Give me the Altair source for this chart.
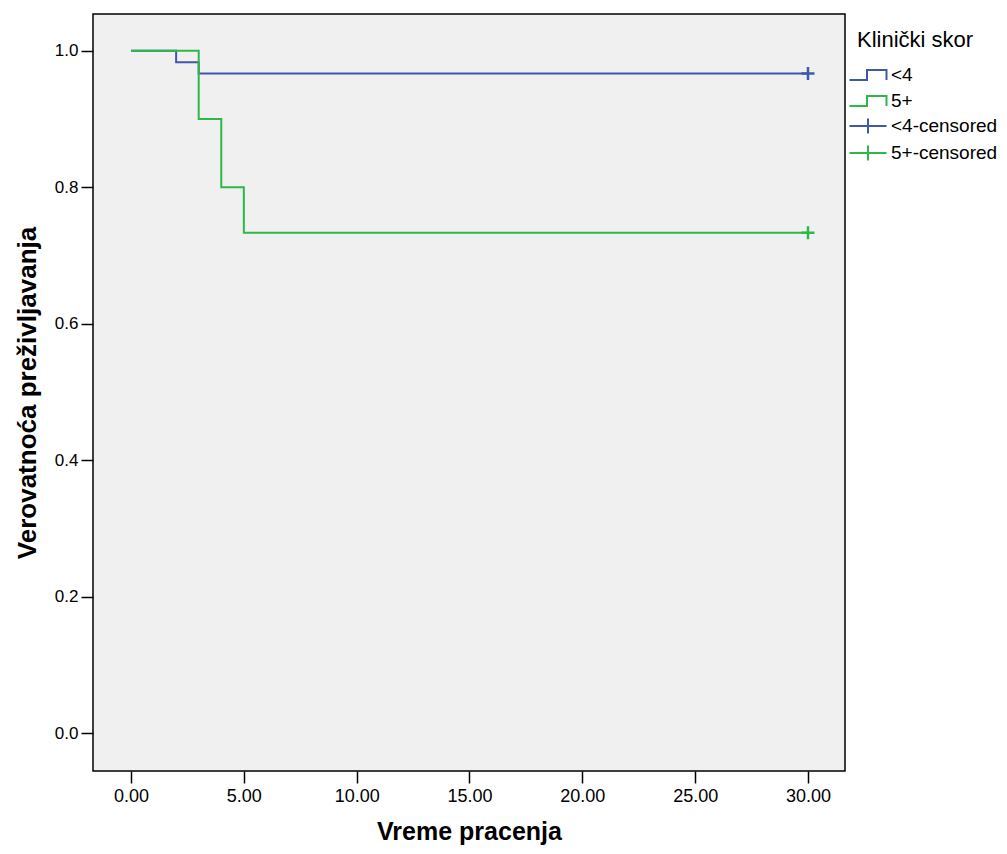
import altair as alt
import pandas as pd

# Kaplan-Meier step data
groups = ["<4", "5+"]
time_lt4 = [0.0, 2.0, 3.0, 30.0]
surv_lt4 = [1.0, 0.9833, 0.9667, 0.9667]
time_5p = [0.0, 3.0, 4.0, 5.0, 30.0]
surv_5p = [1.0, 0.9, 0.8, 0.7333, 0.7333]

cens_groups = ["<4-censored", "5+-censored"]
cens_time = [30.0, 30.0]
cens_surv = [0.9667, 0.7333]

x_ticks = [0, 5, 10, 15, 20, 25, 30]
y_ticks = [0.0, 0.2, 0.4, 0.6, 0.8, 1.0]

colors = ["#3E58AC", "#2EB848"]

rows = []
for t, s in zip(time_lt4, surv_lt4):
    rows.append({"group": "<4", "time": t, "surv": s})
for t, s in zip(time_5p, surv_5p):
    rows.append({"group": "5+", "time": t, "surv": s})
lines_df = pd.DataFrame(rows)
cens_df = pd.DataFrame({"cgroup": cens_groups, "time": cens_time, "surv": cens_surv})

FONT = "Liberation Sans"

x_scale = alt.Scale(domain=[-1.684, 31.64], nice=False, zero=False)
y_scale = alt.Scale(domain=[-0.0557, 1.054], nice=False, zero=False)

x_axis = alt.Axis(values=x_ticks, format=".2f", title="Vreme pracenja", grid=False,
                  domain=False, tickSize=12, tickColor="black", tickWidth=1.5,
                  labelPadding=4, labelFontSize=18, labelColor="black", labelFont=FONT,
                  titleFont=FONT, titleFontSize=25, titleFontWeight="bold",
                  titleColor="black", titlePadding=14, labelFlush=False)
y_axis = alt.Axis(values=y_ticks, format=".1f", title="Verovatnoća preživljavanja", grid=False,
                  domain=False, tickSize=12, tickColor="black", tickWidth=1.5,
                  labelPadding=3, labelFontSize=17, labelColor="black", labelFont=FONT,
                  titleFont=FONT, titleFontSize=26, titleFontWeight="bold",
                  titleColor="black", titlePadding=14, labelFlush=False)

step_path = "M-1.85,0.5H-0.1V-0.5H1.85V0.5"
cross_legend_path = "M-1.85,0H1.85M0,-0.75V0.75"
cross_mark_path = "M-1,0H1M0,-1V1"

lines = alt.Chart(lines_df).mark_line(interpolate="step-after", strokeWidth=2).encode(
    x=alt.X("time:Q", scale=x_scale, axis=x_axis),
    y=alt.Y("surv:Q", scale=y_scale, axis=y_axis),
    color=alt.Color("group:N", scale=alt.Scale(domain=groups, range=colors),
                    legend=alt.Legend(title="Klinički skor", orient="none",
                                      legendX=764, legendY=16,
                                      symbolType=step_path, symbolSize=400,
                                      symbolStrokeWidth=2, symbolFillColor="transparent",
                                      labelFontSize=19, labelFont=FONT, labelColor="black",
                                      labelOffset=12, rowPadding=5,
                                      titleFontSize=22, titleFont=FONT, titleFontWeight="normal",
                                      titleColor="black", titlePadding=12)),
    detail="group:N",
)

cens = alt.Chart(cens_df).mark_point(shape=cross_mark_path, size=169, strokeWidth=2.5,
                                     filled=False, opacity=1).encode(
    x=alt.X("time:Q", scale=x_scale, axis=x_axis),
    y=alt.Y("surv:Q", scale=y_scale, axis=y_axis),
    color=alt.Color("cgroup:N", scale=alt.Scale(domain=cens_groups, range=colors),
                    legend=alt.Legend(title=None, orient="none",
                                      legendX=764, legendY=101,
                                      symbolType=cross_legend_path, symbolSize=400,
                                      symbolStrokeWidth=2, symbolFillColor="transparent",
                                      labelFontSize=19, labelFont=FONT, labelColor="black",
                                      labelOffset=12, rowPadding=3)),
)

chart = alt.layer(lines, cens).resolve_scale(color="independent").properties(
    width=752, height=757,
    autosize=alt.AutoSizeParams(type="none"),
    padding={"left": 85, "top": 6, "right": 154, "bottom": 75},
    background="white",
).configure_view(fill="#F0F0F0", stroke="black", strokeWidth=1.5)

chart.save("out.html", embed_options={"renderer": "svg", "actions": False})
